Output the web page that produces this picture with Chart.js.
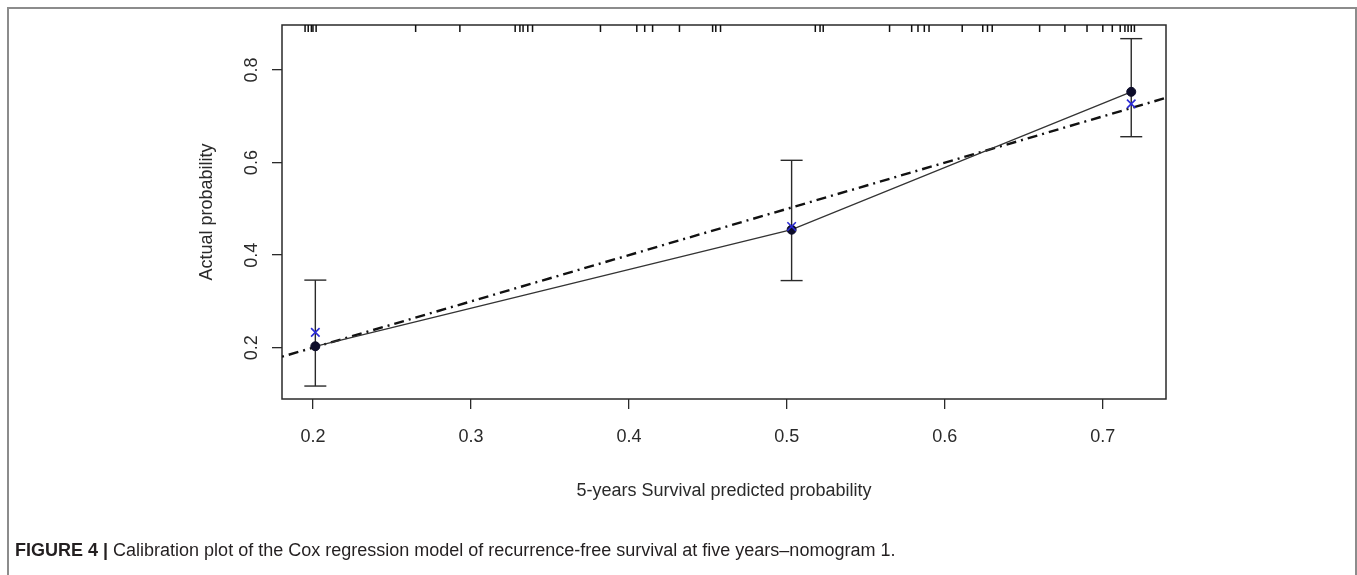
<!DOCTYPE html>
<html>
<head>
<meta charset="utf-8">
<script src="https://cdn.jsdelivr.net/npm/chart.js@4.4.0/dist/chart.umd.min.js"></script>
<style>
html,body{margin:0;padding:0;background:#fff;width:1357px;height:575px;overflow:hidden;}
#frame{position:absolute;left:7px;top:7px;width:1350px;height:640px;border:2px solid #8c8c8c;box-sizing:border-box;}
#c{position:absolute;left:0;top:0;}
#cap{position:absolute;left:15px;top:540px;font-family:"Liberation Sans",Arial,sans-serif;font-size:18px;color:#231f20;white-space:nowrap;}
#cap b{font-weight:bold;}
</style>
</head>
<body>
<div id="frame"></div>
<canvas id="c" width="1357" height="575"></canvas>
<div id="cap"><b>FIGURE 4 |</b> Calibration plot of the Cox regression model of recurrence-free survival at five years–nomogram 1.</div>
<script>
// ---- data ----
const predicted = [0.2015, 0.503, 0.718];        // mean predicted probability per group
const observed  = [0.203, 0.455, 0.753];         // observed probability
const lowerCI   = [0.117, 0.345, 0.656];
const upperCI   = [0.346, 0.605, 0.868];
const corrected = [0.233, 0.462, 0.727];         // bias-corrected estimates (blue x)
const rugValues = [0.195,0.197,0.199,0.200,0.202,0.265,0.293,0.328,0.331,0.333,0.336,0.339,
                   0.382,0.405,0.410,0.415,0.432,0.453,0.455,0.458,0.518,0.521,0.523,0.565,
                   0.579,0.583,0.587,0.590,0.611,0.624,0.627,0.630,0.660,0.676,0.690,0.700,
                   0.706,0.711,0.714,0.716,0.718,0.720];
const xTickValues = [0.2, 0.3, 0.4, 0.5, 0.6, 0.7];
const xTickLabels = ["0.2","0.3","0.4","0.5","0.6","0.7"];
const yTickValues = [0.2, 0.4, 0.6, 0.8];
const yTickLabels = ["0.2","0.4","0.6","0.8"];
const xRange = [0.1804, 0.74];
const yRange = [0.089, 0.8975];
const xTitle = "5-years Survival predicted probability";
const yTitle = "Actual probability";

const FONT = '"Liberation Sans Narrow","Liberation Sans",Arial,sans-serif';
const INK = '#2a2a2a';

const datasets = [];
// ideal line y = x (dash-dot)
datasets.push({
  type:'line', data:[{x:xRange[0],y:xRange[0]},{x:xRange[1],y:xRange[1]}],
  borderColor:'#111', borderWidth:2.4, borderDash:[2,5,10,5], pointRadius:0, order:5
});
// calibration curve
datasets.push({
  type:'line', data:predicted.map((p,i)=>({x:p,y:observed[i]})),
  borderColor:'#333', borderWidth:1.3, pointRadius:0, order:4
});
// error bars
predicted.forEach((p,i)=>{
  datasets.push({
    type:'line', data:[{x:p,y:lowerCI[i]},{x:p,y:upperCI[i]}],
    borderColor:INK, borderWidth:1.4, pointStyle:'line', pointRadius:11,
    pointBorderColor:INK, pointBorderWidth:1.4, order:3
  });
});
// observed points
datasets.push({
  type:'scatter', data:predicted.map((p,i)=>({x:p,y:observed[i]})),
  pointStyle:'circle', pointRadius:4.5, backgroundColor:'#0d0d2a', borderColor:'#0d0d2a', order:2
});
// corrected (blue x)
datasets.push({
  type:'scatter', data:predicted.map((p,i)=>({x:p,y:corrected[i]})),
  pointStyle:'crossRot', pointRadius:6, borderColor:'#2b2bd6', pointBorderWidth:1.6, order:1
});
// rug at top
datasets.push({
  type:'scatter', data:rugValues.map(v=>({x:v,y:yRange[1]})),
  pointStyle:'line', pointRotation:90, pointRadius:7, borderColor:'#111', pointBorderWidth:1.5, order:0
});

const boxPlugin = {
  id:'box',
  beforeDatasetsDraw(chart){
    const {ctx, chartArea:a} = chart;
    ctx.save(); ctx.strokeStyle = INK; ctx.lineWidth = 1.5;
    ctx.strokeRect(a.left, a.top, a.right-a.left, a.bottom-a.top);
    ctx.restore();
  },
  afterDraw(chart){
    const {ctx} = chart; const ys = chart.scales.y;
    ctx.save(); ctx.fillStyle = INK; ctx.font = '18px ' + FONT;
    ctx.textAlign='center'; ctx.textBaseline='middle';
    yTickValues.forEach((v,i)=>{
      const py = ys.getPixelForValue(v);
      ctx.save(); ctx.translate(252, py); ctx.rotate(-Math.PI/2);
      ctx.fillText(yTickLabels[i], 0, 0); ctx.restore();
    });
    ctx.restore();
  }
};

new Chart(document.getElementById('c'), {
  type:'scatter',
  data:{datasets},
  plugins:[boxPlugin],
  options:{
    responsive:false, animation:false, devicePixelRatio:1,
    layout:{padding:{left:0, right:1357-1166, top:25, bottom:0}},
    plugins:{legend:{display:false}, tooltip:{enabled:false}},
    scales:{
      x:{
        type:'linear', min:xRange[0], max:xRange[1],
        afterBuildTicks(s){ s.ticks = xTickValues.map(v=>({value:v})); },
        afterFit(s){ s.height = 575-399; },
        ticks:{ callback(v){ const i = xTickValues.findIndex(t=>Math.abs(t-v)<1e-9); return i>=0? xTickLabels[i] : ''; },
                font:{family:FONT, size:18}, color:INK, padding:17, maxRotation:0, minRotation:0 },
        grid:{ drawOnChartArea:false, drawTicks:true, tickLength:10, color:INK, lineWidth:1.3 },
        border:{ display:false },
        title:{ display:true, text:xTitle, font:{family:FONT, size:18}, color:INK, padding:{top:0,bottom:73} }
      },
      y:{
        type:'linear', min:yRange[0], max:yRange[1],
        afterBuildTicks(s){ s.ticks = yTickValues.map(v=>({value:v})); },
        afterFit(s){ s.width = 282; },
        ticks:{ display:false },
        grid:{ drawOnChartArea:false, drawTicks:true, tickLength:10, color:INK, lineWidth:1.3 },
        border:{ display:false },
        title:{ display:true, text:yTitle, font:{family:FONT, size:18}, color:INK, padding:{top:196,bottom:0} }
      }
    }
  }
});
</script>
</body>
</html>
